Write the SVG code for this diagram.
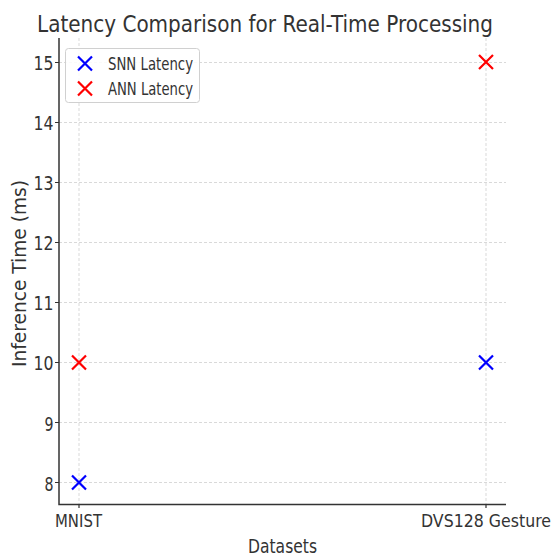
<svg xmlns="http://www.w3.org/2000/svg" width="555" height="556" viewBox="0 0 555 556">
<style>
text{font-family:"DejaVu Sans","Liberation Sans",sans-serif;fill:#333}
.tick{font-size:19.5px;text-anchor:end}
.grid{stroke:#cfcfcf;stroke-width:0.8;stroke-dasharray:3,2;fill:none}
.spine{stroke:#333;stroke-width:1.5;fill:none}
.tk{stroke:#333;stroke-width:1.2}
.snn{stroke:#0000ff;stroke-width:2.2;fill:none}
.ann{stroke:#ff0000;stroke-width:2.2;fill:none}
</style>
<defs>
<path id="x" d="M-7,-7L7,7M-7,7L7,-7"/>
</defs>
<rect width="555" height="556" fill="#fff"/>
<text x="265" y="32" font-size="23.5" text-anchor="middle" textLength="456" lengthAdjust="spacingAndGlyphs">Latency Comparison for Real-Time Processing</text>
<g id="grid">
<path class="grid" d="M59,482.5H506M59,422.5H506M59,362.5H506M59,302.5H506M59,242.5H506M59,182.5H506M59,122.5H506M59,62.5H506"/>
<path class="grid" d="M79,38V504M486,38V504"/>
</g>
<g id="axes">
<path class="spine" d="M59,38V504.5H506"/>
<path class="tk" d="M55,482.5H59M55,422.5H59M55,362.5H59M55,302.5H59M55,242.5H59M55,182.5H59M55,122.5H59M55,62.5H59M79,504V508M486,504V508"/>
<text class="tick" x="53.5" y="490.5" textLength="9" lengthAdjust="spacingAndGlyphs">8</text>
<text class="tick" x="53.5" y="430.5" textLength="9" lengthAdjust="spacingAndGlyphs">9</text>
<text class="tick" x="53.5" y="370" textLength="20" lengthAdjust="spacingAndGlyphs">10</text>
<text class="tick" x="53.5" y="310" textLength="20" lengthAdjust="spacingAndGlyphs">11</text>
<text class="tick" x="53.5" y="250" textLength="20" lengthAdjust="spacingAndGlyphs">12</text>
<text class="tick" x="53.5" y="190" textLength="20" lengthAdjust="spacingAndGlyphs">13</text>
<text class="tick" x="53.5" y="130" textLength="20" lengthAdjust="spacingAndGlyphs">14</text>
<text class="tick" x="53.5" y="69.5" textLength="20" lengthAdjust="spacingAndGlyphs">15</text>
<text x="78.5" y="527" font-size="18.5" text-anchor="middle" textLength="47" lengthAdjust="spacingAndGlyphs">MNIST</text>
<text x="486" y="527" font-size="18.5" text-anchor="middle" textLength="130" lengthAdjust="spacingAndGlyphs">DVS128 Gesture</text>
<text x="282.5" y="553" font-size="20" text-anchor="middle" textLength="69" lengthAdjust="spacingAndGlyphs">Datasets</text>
<text transform="translate(25.5,273.5) rotate(-90)" font-size="19" text-anchor="middle" textLength="187" lengthAdjust="spacingAndGlyphs">Inference Time (ms)</text>
</g>
<g id="snn-points">
<use href="#x" class="snn" x="79" y="482.5"/>
<use href="#x" class="snn" x="486" y="362.5"/>
</g>
<g id="ann-points">
<use href="#x" class="ann" x="79" y="362.5"/>
<use href="#x" class="ann" x="486" y="62"/>
</g>
<g id="legend">
<rect x="65.5" y="48.5" width="134" height="54" rx="3" fill="#fff" fill-opacity="0.85" stroke="#d0d0d0" stroke-width="1"/>
<use href="#x" class="snn" x="85" y="63.5"/>
<use href="#x" class="ann" x="85" y="88.5"/>
<text x="108" y="70" font-size="17" textLength="85" lengthAdjust="spacingAndGlyphs">SNN Latency</text>
<text x="108" y="95" font-size="17" textLength="85" lengthAdjust="spacingAndGlyphs">ANN Latency</text>
</g>
</svg>
